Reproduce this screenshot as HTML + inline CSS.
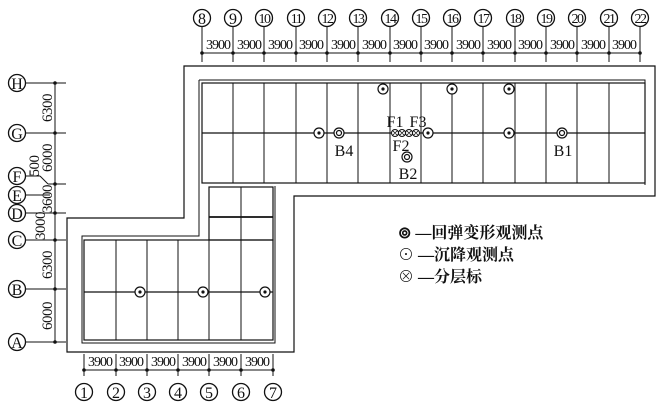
<!DOCTYPE html>
<html><head><meta charset="utf-8"><style>
html,body{margin:0;padding:0;background:#fff}
svg{display:block}
text{font-family:"Liberation Serif","Noto Serif CJK SC",serif;fill:#111}
.lg{font-family:"Liberation Serif","Noto Sans CJK SC",sans-serif;font-weight:bold}
</style></head><body>
<svg width="660" height="402" viewBox="0 0 660 402" xmlns="http://www.w3.org/2000/svg">
<g stroke="#111" fill="none" stroke-width="1.2">
<path d="M184 66 H655 V196 H294 V352 H67 V218 H184 Z"/>
<path d="M199 80 H645 V185" stroke-width="1"/>
<path d="M199 80 V236 H82 V343 H275 V186" stroke-width="1"/>
<rect x="202" y="83" width="443" height="100"/>
<line x1="202" y1="133" x2="645" y2="133"/>
<g stroke-width="1">
<line x1="233" y1="83" x2="233" y2="183"/><line x1="264" y1="83" x2="264" y2="183"/>
<line x1="296" y1="83" x2="296" y2="183"/><line x1="327" y1="83" x2="327" y2="183"/>
<line x1="358" y1="83" x2="358" y2="183"/><line x1="390" y1="83" x2="390" y2="183"/>
<line x1="421" y1="83" x2="421" y2="183"/><line x1="452" y1="83" x2="452" y2="183"/>
<line x1="483" y1="83" x2="483" y2="183"/><line x1="515" y1="83" x2="515" y2="183"/>
<line x1="546" y1="83" x2="546" y2="183"/><line x1="577" y1="83" x2="577" y2="183"/>
<line x1="609" y1="83" x2="609" y2="183"/>
</g>
<rect x="209" y="187" width="64" height="53"/>
<line x1="241" y1="187" x2="241" y2="240" stroke-width="1"/>
<line x1="209" y1="217" x2="273" y2="217" stroke-width="1.8"/>
<rect x="84" y="240" width="189" height="100"/>
<line x1="84" y1="292" x2="273" y2="292"/>
<g stroke-width="1">
<line x1="116" y1="240" x2="116" y2="340"/><line x1="147" y1="240" x2="147" y2="340"/>
<line x1="178" y1="240" x2="178" y2="340"/><line x1="209" y1="240" x2="209" y2="340"/>
<line x1="241" y1="240" x2="241" y2="340"/>
</g>
<line x1="202" y1="53" x2="640" y2="53" stroke-width="1"/>
<g stroke-width="1">
<line x1="202" y1="27" x2="202" y2="62"/><line x1="233" y1="27" x2="233" y2="62"/>
<line x1="264" y1="27" x2="264" y2="62"/><line x1="296" y1="27" x2="296" y2="62"/>
<line x1="327" y1="27" x2="327" y2="62"/><line x1="358" y1="27" x2="358" y2="62"/>
<line x1="390" y1="27" x2="390" y2="62"/><line x1="421" y1="27" x2="421" y2="62"/>
<line x1="452" y1="27" x2="452" y2="62"/><line x1="483" y1="27" x2="483" y2="62"/>
<line x1="515" y1="27" x2="515" y2="62"/><line x1="546" y1="27" x2="546" y2="62"/>
<line x1="577" y1="27" x2="577" y2="62"/><line x1="609" y1="27" x2="609" y2="62"/>
<line x1="640" y1="27" x2="640" y2="62"/>
</g>
<g stroke-width="1.3">
<circle cx="202" cy="18" r="8.5"/><circle cx="233" cy="18" r="8.5"/><circle cx="264" cy="18" r="8.5"/>
<circle cx="296" cy="18" r="8.5"/><circle cx="327" cy="18" r="8.5"/><circle cx="358" cy="18" r="8.5"/>
<circle cx="390" cy="18" r="8.5"/><circle cx="421" cy="18" r="8.5"/><circle cx="452" cy="18" r="8.5"/>
<circle cx="483" cy="18" r="8.5"/><circle cx="515" cy="18" r="8.5"/><circle cx="546" cy="18" r="8.5"/>
<circle cx="577" cy="18" r="8.5"/><circle cx="609" cy="18" r="8.5"/><circle cx="640" cy="18" r="8.5"/>
</g>
<line x1="55" y1="83" x2="55" y2="342" stroke-width="1"/>
<g stroke-width="1">
<line x1="26" y1="83" x2="66" y2="83"/><line x1="26" y1="133" x2="66" y2="133"/>
<line x1="26" y1="176" x2="40" y2="176"/><line x1="40" y1="176" x2="48" y2="184"/>
<line x1="48" y1="184" x2="66" y2="184"/>
<line x1="26" y1="195" x2="50" y2="195"/>
<line x1="26" y1="213" x2="66" y2="213"/><line x1="26" y1="240" x2="66" y2="240"/>
<line x1="26" y1="289" x2="66" y2="289"/><line x1="26" y1="342" x2="66" y2="342"/>
</g>
<g stroke-width="1.3">
<circle cx="17" cy="83" r="8.5"/><circle cx="17" cy="133" r="8.5"/><circle cx="17" cy="176" r="8.5"/>
<circle cx="17" cy="195" r="8.5"/><circle cx="17" cy="213" r="8.5"/><circle cx="17" cy="240" r="8.5"/>
<circle cx="17" cy="289" r="8.5"/><circle cx="17" cy="342" r="8.5"/>
</g>
<line x1="84" y1="370" x2="273" y2="370" stroke-width="1"/>
<g stroke-width="1">
<line x1="84" y1="354" x2="84" y2="376"/><line x1="116" y1="354" x2="116" y2="376"/>
<line x1="147" y1="354" x2="147" y2="376"/><line x1="178" y1="354" x2="178" y2="376"/>
<line x1="209" y1="354" x2="209" y2="376"/><line x1="241" y1="354" x2="241" y2="376"/>
<line x1="273" y1="354" x2="273" y2="376"/>
</g>
<g stroke-width="1.3">
<circle cx="84" cy="392" r="8.5"/><circle cx="116" cy="392" r="8.5"/><circle cx="147" cy="392" r="8.5"/>
<circle cx="178" cy="392" r="8.5"/><circle cx="209" cy="392" r="8.5"/><circle cx="241" cy="392" r="8.5"/>
<circle cx="273" cy="392" r="8.5"/>
</g>
</g>
<g fill="#111">
<circle cx="202" cy="53" r="1.8"/><circle cx="233" cy="53" r="1.8"/><circle cx="264" cy="53" r="1.8"/><circle cx="296" cy="53" r="1.8"/><circle cx="327" cy="53" r="1.8"/><circle cx="358" cy="53" r="1.8"/><circle cx="390" cy="53" r="1.8"/><circle cx="421" cy="53" r="1.8"/><circle cx="452" cy="53" r="1.8"/><circle cx="483" cy="53" r="1.8"/><circle cx="515" cy="53" r="1.8"/><circle cx="546" cy="53" r="1.8"/><circle cx="577" cy="53" r="1.8"/><circle cx="609" cy="53" r="1.8"/><circle cx="640" cy="53" r="1.8"/>
<circle cx="55" cy="83" r="1.8"/><circle cx="55" cy="133" r="1.8"/><circle cx="55" cy="184" r="1.8"/><circle cx="55" cy="213" r="1.8"/><circle cx="55" cy="240" r="1.8"/><circle cx="55" cy="289" r="1.8"/><circle cx="55" cy="342" r="1.8"/>
<circle cx="84" cy="370" r="1.8"/><circle cx="116" cy="370" r="1.8"/><circle cx="147" cy="370" r="1.8"/><circle cx="178" cy="370" r="1.8"/><circle cx="209" cy="370" r="1.8"/><circle cx="241" cy="370" r="1.8"/><circle cx="273" cy="370" r="1.8"/>
</g>
<g stroke="#111" stroke-width="1.2" fill="#fff">
<circle cx="383" cy="89" r="5"/><circle cx="452" cy="89" r="5"/><circle cx="509" cy="89" r="5"/>
<circle cx="319" cy="133" r="5"/><circle cx="428" cy="133" r="5"/><circle cx="509" cy="133" r="5"/>
<circle cx="140" cy="292" r="5"/><circle cx="203" cy="292" r="5"/><circle cx="265" cy="292" r="5"/>
<circle cx="339" cy="133" r="5"/><circle cx="339" cy="133" r="2.5"/>
<circle cx="562" cy="133" r="5"/><circle cx="562" cy="133" r="2.5"/>
<circle cx="407" cy="157" r="5"/><circle cx="407" cy="157" r="2.5"/>
</g>
<g fill="#111">
<circle cx="383" cy="89" r="1.6"/><circle cx="452" cy="89" r="1.6"/><circle cx="509" cy="89" r="1.6"/>
<circle cx="319" cy="133" r="1.6"/><circle cx="428" cy="133" r="1.6"/><circle cx="509" cy="133" r="1.6"/>
<circle cx="140" cy="292" r="1.6"/><circle cx="203" cy="292" r="1.6"/><circle cx="265" cy="292" r="1.6"/>
</g>
<g stroke="#111" stroke-width="1" fill="#fff">
<circle cx="395" cy="133" r="3.5"/><circle cx="402" cy="133" r="3.5"/><circle cx="409" cy="133" r="3.5"/><circle cx="416" cy="133" r="3.5"/>
</g>
<g stroke="#111" stroke-width="0.8">
<path d="M392.5 130.5l5 5M397.5 130.5l-5 5M399.5 130.5l5 5M404.5 130.5l-5 5M406.5 130.5l5 5M411.5 130.5l-5 5M413.5 130.5l5 5M418.5 130.5l-5 5"/>
</g>
<g font-size="16" text-anchor="middle">
<text x="202" y="24">8</text><text x="233" y="24">9</text>
<g font-size="14" letter-spacing="-1.5">
<text x="264" y="23">10</text><text x="296" y="23">11</text><text x="327" y="23">12</text><text x="358" y="23">13</text>
<text x="390" y="23">14</text><text x="421" y="23">15</text><text x="452" y="23">16</text>
<text x="483" y="23">17</text><text x="515" y="23">18</text><text x="546" y="23">19</text>
<text x="577" y="23">20</text><text x="609" y="23">21</text><text x="640" y="23">22</text>
</g>
<text x="17" y="89">H</text><text x="17" y="139">G</text><text x="17" y="182">F</text><text x="17" y="201">E</text>
<text x="17" y="219">D</text><text x="17" y="246">C</text><text x="17" y="295">B</text><text x="17" y="348">A</text>
<text x="84" y="398">1</text><text x="116" y="398">2</text><text x="147" y="398">3</text><text x="178" y="398">4</text>
<text x="209" y="398">5</text><text x="241" y="398">6</text><text x="273" y="398">7</text>
</g>
<g font-size="14" text-anchor="middle" letter-spacing="-1">
<text x="218" y="49">3900</text><text x="249" y="49">3900</text><text x="280" y="49">3900</text><text x="311" y="49">3900</text>
<text x="343" y="49">3900</text><text x="374" y="49">3900</text><text x="405" y="49">3900</text><text x="436" y="49">3900</text>
<text x="468" y="49">3900</text><text x="499" y="49">3900</text><text x="530" y="49">3900</text><text x="562" y="49">3900</text>
<text x="593" y="49">3900</text><text x="624" y="49">3900</text>
<text x="100" y="366">3900</text><text x="131" y="366">3900</text><text x="163" y="366">3900</text>
<text x="194" y="366">3900</text><text x="225" y="366">3900</text><text x="257" y="366">3900</text>
</g>
<g font-size="15" text-anchor="middle" letter-spacing="-0.5">
<text transform="translate(52,108) rotate(-90)">6300</text>
<text transform="translate(52,158) rotate(-90)">6000</text>
<text transform="translate(39,166) rotate(-90)">500</text>
<text transform="translate(52,199) rotate(-90)">3600</text>
<text transform="translate(45,226) rotate(-90)">3000</text>
<text transform="translate(52,265) rotate(-90)">6300</text>
<text transform="translate(52,316) rotate(-90)">6000</text>
</g>
<g font-size="16" text-anchor="middle">
<text x="395" y="127">F1</text><text x="418" y="127">F3</text><text x="401" y="151">F2</text>
<text x="344" y="156">B4</text><text x="408" y="179">B2</text><text x="563" y="156">B1</text>
</g>
<g font-size="16" class="lg">
<text x="398" y="238">⊚ —回弹变形观测点</text>
<text x="398" y="260">⊙ —沉降观测点</text>
<text x="398" y="282">⊗ —分层标</text>
</g>
</svg>
</body></html>
